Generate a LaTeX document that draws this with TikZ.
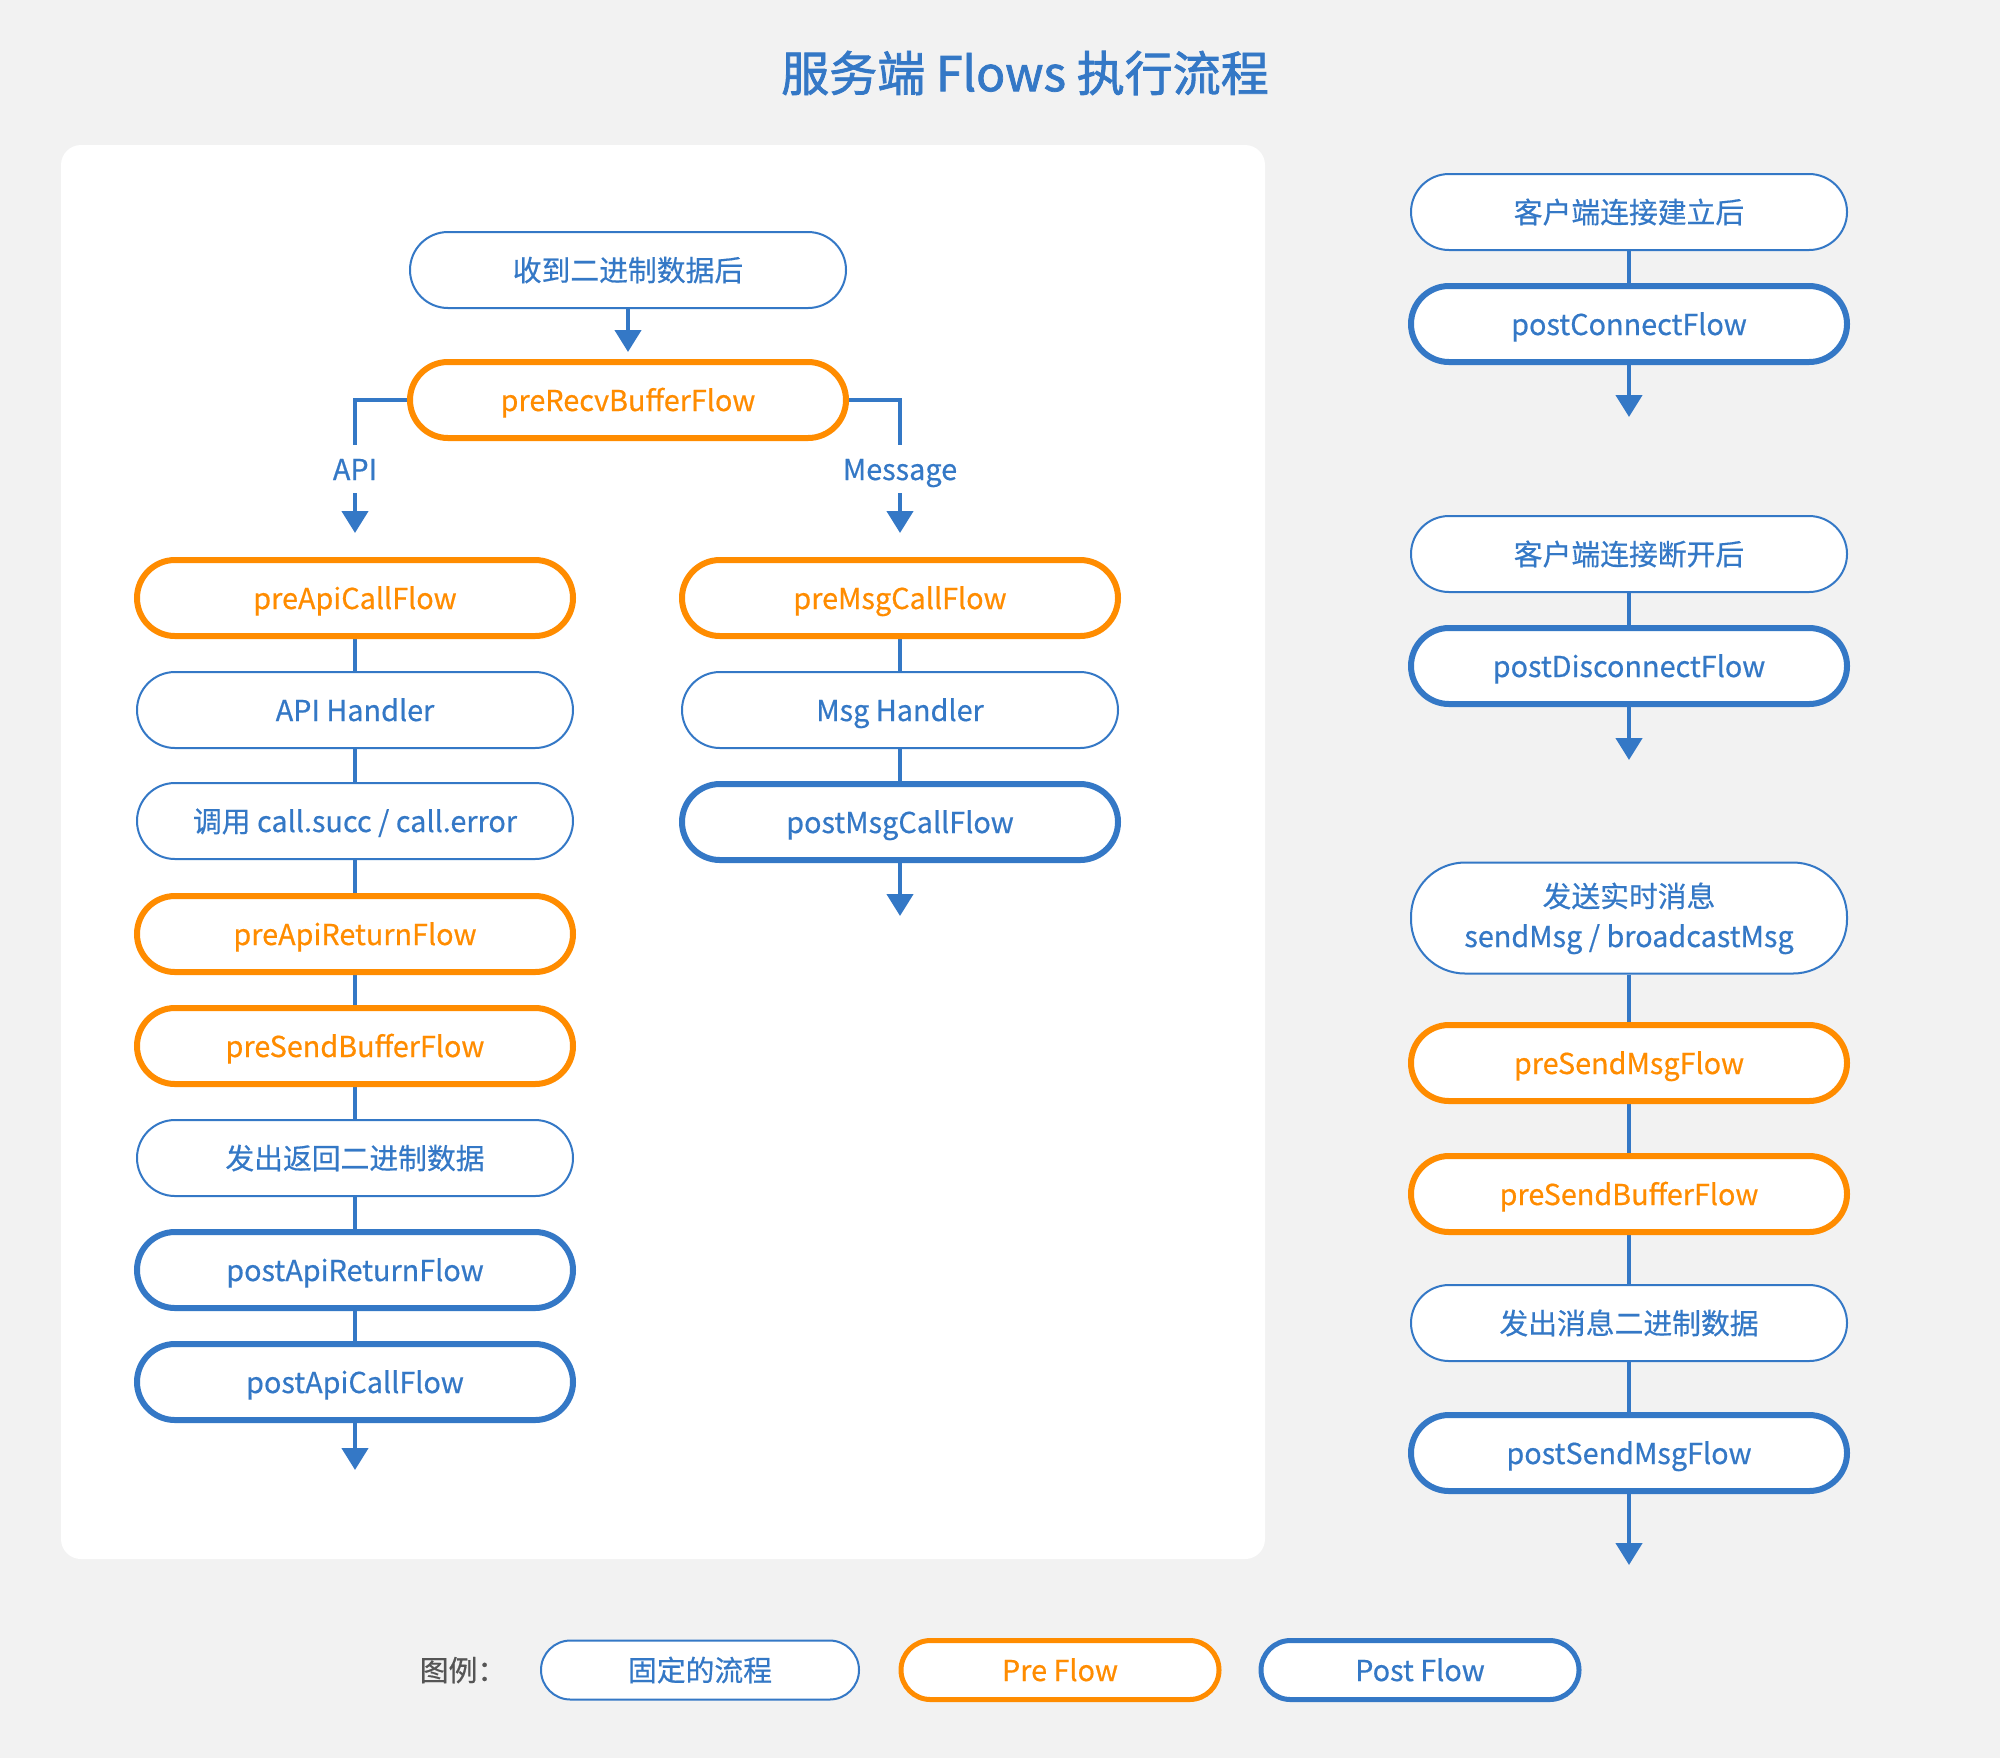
\documentclass[tikz,border=0pt]{standalone}
\usepackage{fontspec}
\setmainfont{Noto Sans CJK SC}[RawFeature={embolden=0.5}]
\newfontfamily\titlefont{Noto Sans CJK SC}[RawFeature={embolden=1.6}]
\usetikzlibrary{arrows.meta,backgrounds}
\definecolor{fblue}{HTML}{3478C6}
\definecolor{forange}{HTML}{FF8C00}
\definecolor{bggray}{HTML}{F2F2F2}
\definecolor{lgray}{HTML}{555555}
\begin{document}
\begin{tikzpicture}[x=0.5pt,y=-0.5pt,
 base/.style={rectangle, rounded corners=19pt, minimum width=218pt, minimum height=38pt, fill=white, font=\fontsize{14.4pt}{20pt}\selectfont, inner sep=0pt, align=center, text height=11pt, text depth=0pt},
 fixed/.style={base, draw=fblue, line width=1pt, text=fblue},
 pre/.style={base, draw=forange, line width=3pt, text=forange},
 post/.style={base, draw=fblue, line width=3pt, text=fblue},
 legsize/.style={minimum width=159pt, minimum height=29.5pt, rounded corners=14.75pt},
 link/.style={draw=fblue, line width=2.2pt},
 arr/.style={link, -{Triangle[width=13pt,length=11pt]}},
 lbl/.style={text=fblue, font=\fontsize{14.4pt}{17pt}\selectfont, inner sep=0pt, minimum height=24pt, text height=11pt, text depth=0pt},
]
\useasboundingbox (0,0) rectangle (2000,1758);

% title
\node[text=fblue, font=\titlefont\fontsize{24pt}{29pt}\selectfont] (title) at (1025,73) {服务端 Flows 执行流程};

% left / middle column
\node[fixed] (recv0) at (628,270) {收到二进制数据后};
\node[pre] (recv) at (628,400) {preRecvBufferFlow};
\node[lbl] (apil) at (355,469) {API};
\node[lbl] (msgl) at (900,469) {Message};
\coordinate (apitip) at (355,533);
\coordinate (msgtip) at (900,533);

\node[pre] (apicall) at (355,598) {preApiCallFlow};
\node[fixed] (apih) at (355,710) {API Handler};
\node[fixed] (callsucc) at (355,821) {调用 call.succ / call.error};
\node[pre] (apiret) at (355,934) {preApiReturnFlow};
\node[pre] (sendbuf) at (355,1046) {preSendBufferFlow};
\node[fixed] (sendbin) at (355,1158) {发出返回二进制数据};
\node[post] (postret) at (355,1270) {postApiReturnFlow};
\node[post] (postcall) at (355,1382) {postApiCallFlow};
\coordinate (endA) at (355,1470);

\node[pre] (msgcall) at (900,598) {preMsgCallFlow};
\node[fixed] (msgh) at (900,710) {Msg Handler};
\node[post] (postmsg) at (900,822) {postMsgCallFlow};
\coordinate (endB) at (900,916);

% right column
\node[fixed] (conn) at (1629,212) {客户端连接建立后};
\node[post] (postconn) at (1629,324) {postConnectFlow};
\coordinate (endC) at (1629,417);
\node[fixed] (disc) at (1629,554) {客户端连接断开后};
\node[post] (postdisc) at (1629,666) {postDisconnectFlow};
\coordinate (endD) at (1629,760);
\node[fixed, minimum height=55.5pt, rounded corners=27pt, text height=29pt, text depth=0pt] (send) at (1629,918) {发送实时消息\\sendMsg / broadcastMsg};
\node[pre] (presendmsg) at (1629,1063) {preSendMsgFlow};
\node[pre] (presendbuf) at (1629,1194) {preSendBufferFlow};
\node[fixed] (sendmsgbin) at (1629,1323) {发出消息二进制数据};
\node[post] (postsend) at (1629,1453) {postSendMsgFlow};
\coordinate (endE) at (1629,1565);

% legend
\node[text=lgray, font=\fontsize{14.4pt}{17pt}\selectfont, text height=11pt, text depth=0pt] (legt) at (463,1670) {图例：};
\node[fixed, legsize] (leg1) at (700,1670) {固定的流程};
\node[pre, legsize, line width=2.5pt] (leg2) at (1060,1670) {Pre Flow};
\node[post, legsize, line width=2.5pt] (leg3) at (1420,1670) {Post Flow};

\begin{scope}[on background layer]
\fill[bggray] (0,0) rectangle (2000,1758);
\fill[white, rounded corners=10pt] (61,145) rectangle (1265,1559);

\draw[arr] (recv0.south) -- ([yshift=3.5pt]recv.north);
\draw[link] (recv.west) -| (apil.north);
\draw[arr] (apil.south) -- (apitip);
\draw[link] (recv.east) -| (msgl.north);
\draw[arr] (msgl.south) -- (msgtip);

\draw[link] (apicall) -- (apih);
\draw[link] (apih) -- (callsucc);
\draw[link] (callsucc) -- (apiret);
\draw[link] (apiret) -- (sendbuf);
\draw[link] (sendbuf) -- (sendbin);
\draw[link] (sendbin) -- (postret);
\draw[link] (postret) -- (postcall);
\draw[arr] (postcall.south) -- (endA);

\draw[link] (msgcall) -- (msgh);
\draw[link] (msgh) -- (postmsg);
\draw[arr] (postmsg.south) -- (endB);

\draw[link] (conn) -- (postconn);
\draw[arr] (postconn.south) -- (endC);
\draw[link] (disc) -- (postdisc);
\draw[arr] (postdisc.south) -- (endD);
\draw[link] (send) -- (presendmsg);
\draw[link] (presendmsg) -- (presendbuf);
\draw[link] (presendbuf) -- (sendmsgbin);
\draw[link] (sendmsgbin) -- (postsend);
\draw[arr] (postsend.south) -- (endE);
\end{scope}
\end{tikzpicture}
\end{document}
